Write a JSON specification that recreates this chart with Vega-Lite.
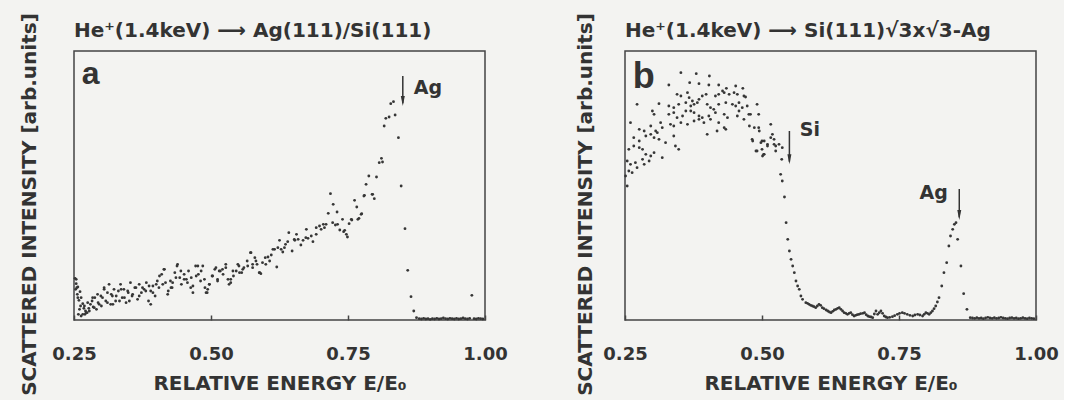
{
  "$schema": "https://vega.github.io/schema/vega-lite/v6.json",
  "background": "#f3f3f1",
  "padding": {"left": 18, "top": 11, "right": 5, "bottom": 3},
  "bounds": "flush",
  "spacing": 140,
  "config": {
    "view": {"stroke": "#444444", "strokeWidth": 1.5},
    "font": "DejaVu Sans",
    "title": {"anchor": "start", "frame": "group", "fontSize": 20, "fontWeight": "bold", "font": "DejaVu Sans", "color": "#333333", "baseline": "alphabetic", "offset": 12, "dy": 40},
    "axis": {"labelFont": "DejaVu Sans", "titleFont": "DejaVu Sans", "labelColor": "#333333", "titleColor": "#333333", "grid": false}
  },
  "datasets": {
    "a": [
      {"e":0.252,"i":125},{"e":0.254,"i":109},{"e":0.253,"i":92},{"e":0.257,"i":99},{"e":0.256,"i":77},{"e":0.261,"i":85},{"e":0.259,"i":59},{"e":0.263,"i":67},{"e":0.262,"i":42},{"e":0.266,"i":49},{"e":0.268,"i":35},{"e":0.271,"i":27},{"e":0.274,"i":22},{"e":0.270,"i":17},{"e":0.277,"i":35},{"e":0.280,"i":47},{"e":0.283,"i":57},{"e":0.285,"i":39},{"e":0.288,"i":67},{"e":0.291,"i":32},{"e":0.294,"i":52},{"e":0.299,"i":72},{"e":0.300,"i":42},{"e":0.305,"i":97},{"e":0.308,"i":57},{"e":0.311,"i":82},{"e":0.314,"i":107},{"e":0.317,"i":47},{"e":0.320,"i":72},{"e":0.323,"i":92},{"e":0.326,"i":57},{"e":0.331,"i":87},{"e":0.335,"i":107},{"e":0.338,"i":67},{"e":0.341,"i":92},{"e":0.345,"i":52},{"e":0.349,"i":82},{"e":0.353,"i":112},{"e":0.356,"i":72},{"e":0.361,"i":97},{"e":0.366,"i":62},{"e":0.369,"i":107},{"e":0.373,"i":82},{"e":0.378,"i":92},{"e":0.382,"i":112},{"e":0.386,"i":57},{"e":0.390,"i":87},{"e":0.394,"i":102},{"e":0.398,"i":72},{"e":0.402,"i":117},{"e":0.405,"i":97},{"e":0.410,"i":137},{"e":0.414,"i":152},{"e":0.417,"i":112},{"e":0.422,"i":87},{"e":0.426,"i":117},{"e":0.429,"i":97},{"e":0.434,"i":142},{"e":0.438,"i":162},{"e":0.443,"i":127},{"e":0.446,"i":107},{"e":0.451,"i":137},{"e":0.455,"i":122},{"e":0.459,"i":147},{"e":0.463,"i":97},{"e":0.467,"i":82},{"e":0.472,"i":162},{"e":0.477,"i":137},{"e":0.481,"i":117},{"e":0.485,"i":162},{"e":0.489,"i":97},{"e":0.493,"i":82},{"e":0.497,"i":107},{"e":0.502,"i":132},{"e":0.507,"i":152},{"e":0.512,"i":117},{"e":0.517,"i":147},{"e":0.522,"i":137},{"e":0.527,"i":157},{"e":0.531,"i":122},{"e":0.536,"i":112},{"e":0.541,"i":132},{"e":0.546,"i":147},{"e":0.551,"i":162},{"e":0.556,"i":142},{"e":0.560,"i":157},{"e":0.566,"i":177},{"e":0.572,"i":202},{"e":0.576,"i":157},{"e":0.580,"i":187},{"e":0.584,"i":167},{"e":0.589,"i":142},{"e":0.594,"i":172},{"e":0.599,"i":187},
      {"e":0.254,"i":122},{"e":0.255,"i":97},{"e":0.257,"i":67},{"e":0.258,"i":17},{"e":0.260,"i":32},{"e":0.263,"i":12},{"e":0.266,"i":17},{"e":0.269,"i":42},{"e":0.272,"i":22},{"e":0.275,"i":52},{"e":0.278,"i":27},{"e":0.284,"i":67},{"e":0.287,"i":37},{"e":0.293,"i":77},{"e":0.296,"i":47},{"e":0.302,"i":67},{"e":0.305,"i":92},{"e":0.311,"i":52},{"e":0.318,"i":77},{"e":0.321,"i":47},{"e":0.327,"i":72},{"e":0.333,"i":57},{"e":0.336,"i":92},{"e":0.342,"i":67},{"e":0.348,"i":87},{"e":0.351,"i":57},{"e":0.357,"i":77},{"e":0.363,"i":97},{"e":0.369,"i":72},{"e":0.375,"i":97},{"e":0.381,"i":87},{"e":0.387,"i":102},{"e":0.390,"i":47},{"e":0.394,"i":82},{"e":0.400,"i":107},{"e":0.406,"i":132},{"e":0.412,"i":107},{"e":0.415,"i":152},{"e":0.421,"i":77},{"e":0.427,"i":97},{"e":0.430,"i":112},{"e":0.436,"i":127},{"e":0.439,"i":167},{"e":0.445,"i":147},{"e":0.451,"i":122},{"e":0.457,"i":112},{"e":0.464,"i":127},{"e":0.467,"i":102},{"e":0.473,"i":132},{"e":0.476,"i":162},{"e":0.482,"i":147},{"e":0.488,"i":122},{"e":0.491,"i":82},{"e":0.494,"i":92},{"e":0.497,"i":107},{"e":0.503,"i":132},{"e":0.509,"i":157},{"e":0.512,"i":122},{"e":0.515,"i":147},{"e":0.521,"i":152},{"e":0.527,"i":167},{"e":0.533,"i":107},{"e":0.536,"i":122},{"e":0.540,"i":147},{"e":0.549,"i":167},{"e":0.552,"i":142},{"e":0.558,"i":152},{"e":0.567,"i":162},{"e":0.573,"i":202},{"e":0.576,"i":167},{"e":0.582,"i":177},{"e":0.588,"i":142},
      {"e":0.591,"i":139},{"e":0.600,"i":167},{"e":0.604,"i":189},{"e":0.610,"i":195},{"e":0.616,"i":212},{"e":0.620,"i":159},{"e":0.622,"i":217},{"e":0.625,"i":239},{"e":0.628,"i":212},{"e":0.631,"i":204},{"e":0.636,"i":227},{"e":0.640,"i":235},{"e":0.642,"i":262},{"e":0.648,"i":207},{"e":0.653,"i":239},{"e":0.656,"i":257},{"e":0.659,"i":242},{"e":0.664,"i":225},{"e":0.668,"i":239},{"e":0.674,"i":272},{"e":0.677,"i":245},{"e":0.683,"i":252},{"e":0.686,"i":235},{"e":0.692,"i":277},{"e":0.698,"i":282},{"e":0.701,"i":272},{"e":0.705,"i":287},{"e":0.710,"i":287},{"e":0.714,"i":320},{"e":0.718,"i":379},{"e":0.723,"i":347},{"e":0.727,"i":285},{"e":0.730,"i":324},{"e":0.735,"i":270},{"e":0.740,"i":302},{"e":0.742,"i":265},{"e":0.747,"i":257},{"e":0.749,"i":249},{"e":0.752,"i":289},{"e":0.757,"i":300},{"e":0.762,"i":359},{"e":0.766,"i":339},{"e":0.770,"i":305},{"e":0.775,"i":319},{"e":0.780,"i":374},{"e":0.783,"i":407},{"e":0.788,"i":432},{"e":0.794,"i":377},{"e":0.798,"i":364},{"e":0.802,"i":429},{"e":0.807,"i":472},{"e":0.811,"i":485},
      {"e":0.607,"i":177},{"e":0.613,"i":212},{"e":0.634,"i":217},{"e":0.652,"i":242},{"e":0.673,"i":247},{"e":0.692,"i":257},{"e":0.707,"i":277},{"e":0.722,"i":292},{"e":0.731,"i":287},{"e":0.744,"i":269},{"e":0.756,"i":302},{"e":0.768,"i":302},{"e":0.774,"i":317},{"e":0.779,"i":372},{"e":0.795,"i":377},
      {"e":0.813,"i":474},{"e":0.816,"i":582},{"e":0.819,"i":605},{"e":0.825,"i":609},{"e":0.828,"i":649},{"e":0.833,"i":655},{"e":0.836,"i":615},
      {"e":0.842,"i":547},{"e":0.847,"i":402},{"e":0.854,"i":274},{"e":0.859,"i":149},{"e":0.865,"i":70},{"e":0.870,"i":27},{"e":0.875,"i":7},
      {"e":0.880,"i":4},{"e":0.884,"i":3},{"e":0.888,"i":5},{"e":0.892,"i":3},{"e":0.896,"i":4},{"e":0.900,"i":2},{"e":0.904,"i":4},{"e":0.908,"i":3},{"e":0.912,"i":5},{"e":0.916,"i":3},{"e":0.920,"i":4},{"e":0.924,"i":6},{"e":0.928,"i":4},{"e":0.932,"i":3},{"e":0.936,"i":5},{"e":0.940,"i":4},{"e":0.944,"i":3},{"e":0.948,"i":5},{"e":0.952,"i":3},{"e":0.956,"i":4},{"e":0.960,"i":6},{"e":0.964,"i":4},{"e":0.968,"i":3},{"e":0.972,"i":5},{"e":0.980,"i":4},{"e":0.984,"i":3},{"e":0.988,"i":5},{"e":0.992,"i":4},{"e":0.996,"i":3},
      {"e":0.976,"i":74}
    ],
    "b": [
      {"e":0.352,"i":742},{"e":0.380,"i":739},{"e":0.404,"i":732},{"e":0.330,"i":705},{"e":0.368,"i":712},{"e":0.385,"i":709},{"e":0.403,"i":705},{"e":0.421,"i":705},{"e":0.435,"i":695},{"e":0.452,"i":702},{"e":0.465,"i":695},{"e":0.345,"i":677},{"e":0.352,"i":672},{"e":0.364,"i":682},{"e":0.367,"i":667},{"e":0.373,"i":657},{"e":0.385,"i":662},{"e":0.382,"i":652},{"e":0.391,"i":672},{"e":0.398,"i":677},{"e":0.415,"i":672},{"e":0.421,"i":677},{"e":0.428,"i":687},{"e":0.431,"i":682},{"e":0.440,"i":677},{"e":0.449,"i":682},{"e":0.455,"i":677},{"e":0.467,"i":672},{"e":0.470,"i":669},{"e":0.458,"i":652},{"e":0.272,"i":647},{"e":0.312,"i":649},{"e":0.330,"i":642},{"e":0.339,"i":637},{"e":0.348,"i":647},{"e":0.361,"i":652},{"e":0.370,"i":642},{"e":0.376,"i":647},{"e":0.400,"i":647},{"e":0.406,"i":637},{"e":0.412,"i":632},{"e":0.421,"i":647},{"e":0.434,"i":652},{"e":0.446,"i":647},{"e":0.452,"i":642},{"e":0.458,"i":627},{"e":0.464,"i":637},{"e":0.473,"i":642},{"e":0.479,"i":617},{"e":0.491,"i":647},{"e":0.300,"i":627},{"e":0.303,"i":617},{"e":0.330,"i":617},{"e":0.339,"i":622},{"e":0.345,"i":607},{"e":0.355,"i":612},{"e":0.361,"i":627},{"e":0.370,"i":627},{"e":0.376,"i":622},{"e":0.385,"i":612},{"e":0.391,"i":607},{"e":0.403,"i":612},{"e":0.415,"i":622},{"e":0.431,"i":617},{"e":0.437,"i":607},{"e":0.455,"i":612},{"e":0.467,"i":602},{"e":0.476,"i":617},{"e":0.494,"i":617},{"e":0.260,"i":592},{"e":0.276,"i":572},{"e":0.285,"i":567},{"e":0.297,"i":582},{"e":0.306,"i":567},{"e":0.315,"i":592},{"e":0.318,"i":577},{"e":0.333,"i":587},{"e":0.339,"i":582},{"e":0.352,"i":592},{"e":0.364,"i":587},{"e":0.376,"i":597},{"e":0.385,"i":602},{"e":0.394,"i":592},{"e":0.406,"i":602},{"e":0.421,"i":592},{"e":0.431,"i":577},{"e":0.494,"i":577},{"e":0.516,"i":587},{"e":0.266,"i":547},{"e":0.276,"i":537},{"e":0.288,"i":552},{"e":0.297,"i":557},{"e":0.303,"i":547},{"e":0.309,"i":562},{"e":0.312,"i":542},{"e":0.324,"i":532},{"e":0.339,"i":552},{"e":0.348,"i":512},{"e":0.342,"i":522},{"e":0.400,"i":557},{"e":0.418,"i":567},{"e":0.434,"i":572},{"e":0.482,"i":542},{"e":0.500,"i":537},{"e":0.510,"i":527},{"e":0.519,"i":557},{"e":0.522,"i":542},{"e":0.525,"i":522},{"e":0.257,"i":512},{"e":0.266,"i":522},{"e":0.276,"i":517},{"e":0.282,"i":512},{"e":0.288,"i":497},{"e":0.297,"i":492},{"e":0.303,"i":502},{"e":0.318,"i":487},{"e":0.491,"i":507},{"e":0.500,"i":512},{"e":0.503,"i":497},{"e":0.525,"i":507},{"e":0.531,"i":527},{"e":0.537,"i":517},{"e":0.254,"i":477},{"e":0.260,"i":467},{"e":0.269,"i":472},{"e":0.272,"i":457},{"e":0.282,"i":482},{"e":0.285,"i":467},{"e":0.294,"i":477},{"e":0.257,"i":447},{"e":0.263,"i":442},{"e":0.251,"i":432},{"e":0.254,"i":402},
      {"e":0.477,"i":582},{"e":0.486,"i":577},{"e":0.495,"i":567},{"e":0.498,"i":532},{"e":0.504,"i":537},{"e":0.510,"i":522},{"e":0.516,"i":547},{"e":0.522,"i":527},{"e":0.483,"i":537},{"e":0.489,"i":507},{"e":0.504,"i":497},{"e":0.501,"i":492},
      {"e":0.536,"i":482},{"e":0.534,"i":437},{"e":0.537,"i":417},{"e":0.541,"i":369},{"e":0.544,"i":292},{"e":0.547,"i":242},{"e":0.550,"i":207},{"e":0.553,"i":182},{"e":0.556,"i":162},{"e":0.559,"i":142},{"e":0.562,"i":117},{"e":0.565,"i":102},{"e":0.568,"i":92},{"e":0.571,"i":72},{"e":0.574,"i":62},{"e":0.580,"i":52},{"e":0.586,"i":47},{"e":0.592,"i":42},{"e":0.598,"i":37},{"e":0.604,"i":47},{"e":0.610,"i":37},{"e":0.620,"i":27},{"e":0.626,"i":22},{"e":0.635,"i":32},{"e":0.641,"i":37},{"e":0.647,"i":27},{"e":0.656,"i":17},{"e":0.662,"i":22},{"e":0.668,"i":12},{"e":0.677,"i":17},{"e":0.687,"i":22},{"e":0.693,"i":12},{"e":0.702,"i":7},{"e":0.708,"i":27},{"e":0.711,"i":17},{"e":0.717,"i":27},{"e":0.723,"i":12},{"e":0.729,"i":7},{"e":0.738,"i":10},{"e":0.747,"i":17},{"e":0.756,"i":22},{"e":0.765,"i":17},{"e":0.775,"i":12},{"e":0.784,"i":17},{"e":0.793,"i":12},{"e":0.799,"i":22},{"e":0.805,"i":17},{"e":0.811,"i":27},{"e":0.817,"i":42},{"e":0.823,"i":67},{"e":0.828,"i":102},{"e":0.832,"i":142},{"e":0.837,"i":172},{"e":0.841,"i":222},{"e":0.844,"i":252},{"e":0.848,"i":272},{"e":0.851,"i":287},{"e":0.854,"i":292},{"e":0.857,"i":242},{"e":0.863,"i":162},{"e":0.868,"i":79},{"e":0.874,"i":32},{"e":0.880,"i":7},
      {"e":0.583,"i":50},{"e":0.589,"i":44},{"e":0.595,"i":40},{"e":0.601,"i":42},{"e":0.607,"i":44},{"e":0.613,"i":34},{"e":0.617,"i":30},{"e":0.623,"i":24},{"e":0.629,"i":26},{"e":0.632,"i":30},{"e":0.638,"i":35},{"e":0.644,"i":32},{"e":0.650,"i":22},{"e":0.653,"i":20},{"e":0.659,"i":20},{"e":0.665,"i":16},{"e":0.671,"i":14},{"e":0.674,"i":16},{"e":0.680,"i":19},{"e":0.684,"i":20},{"e":0.690,"i":16},{"e":0.696,"i":10},{"e":0.699,"i":9},{"e":0.705,"i":18},{"e":0.714,"i":22},{"e":0.720,"i":20},{"e":0.726,"i":9},{"e":0.733,"i":8},{"e":0.742,"i":13},{"e":0.751,"i":20},{"e":0.760,"i":20},{"e":0.770,"i":14},{"e":0.779,"i":15},{"e":0.788,"i":15},{"e":0.796,"i":17},{"e":0.802,"i":20},{"e":0.808,"i":22},{"e":0.814,"i":34},{"e":0.820,"i":54},
      {"e":0.884,"i":6},{"e":0.888,"i":5},{"e":0.892,"i":7},{"e":0.896,"i":5},{"e":0.900,"i":6},{"e":0.904,"i":4},{"e":0.908,"i":6},{"e":0.912,"i":8},{"e":0.916,"i":6},{"e":0.920,"i":5},{"e":0.924,"i":7},{"e":0.928,"i":5},{"e":0.932,"i":6},{"e":0.936,"i":8},{"e":0.940,"i":6},{"e":0.944,"i":5},{"e":0.948,"i":4},{"e":0.952,"i":6},{"e":0.956,"i":7},{"e":0.960,"i":5},{"e":0.964,"i":6},{"e":0.968,"i":4},{"e":0.972,"i":5},{"e":0.976,"i":7},{"e":0.980,"i":5},{"e":0.984,"i":4},{"e":0.988,"i":6},{"e":0.992,"i":5},{"e":0.996,"i":4}
    ]
  },
  "hconcat": [
    {
      "width": 411,
      "height": 269,
      "title": {"text": "He⁺(1.4keV) ⟶ Ag(111)/Si(111)"},
      "layer": [
        {
          "data": {"name": "a"},
          "mark": {"type": "circle", "size": 8, "color": "#363636", "opacity": 1},
          "encoding": {
            "x": {"field": "e", "type": "quantitative", "scale": {"domain": [0.25, 1.0], "nice": false, "zero": false},
              "axis": {"values": [0.25, 0.5, 0.75, 1.0], "format": ".2f", "title": "RELATIVE ENERGY E/E₀", "tickSize": -5, "tickColor": "#444444", "tickWidth": 1.5, "domain": false, "labelFlush": false, "labelFontSize": 18, "labelFontWeight": "bold", "labelPadding": 30, "titleFontSize": 20, "titleFontWeight": "bold", "titlePadding": 10}},
            "y": {"field": "i", "type": "quantitative", "scale": {"domain": [0, 807], "nice": false},
              "axis": {"labels": false, "ticks": false, "domain": false, "title": "SCATTERED INTENSITY [arb.units]", "titleFontSize": 20, "titleFontWeight": "bold", "titlePadding": 35, "titleY": 153}}
          }
        },
        {
          "data": {"values": [{"e": 0.850, "top": 732, "bot": 650}]},
          "mark": {"type": "rule", "color": "#333333", "strokeWidth": 1.5},
          "encoding": {"x": {"field": "e", "type": "quantitative"}, "y": {"field": "top", "type": "quantitative"}, "y2": {"field": "bot"}}
        },
        {
          "data": {"values": [{"e": 0.850, "i": 657}]},
          "mark": {"type": "point", "shape": "M-0.4,-1L0.4,-1L0,1Z", "filled": true, "size": 100, "color": "#333333", "opacity": 1},
          "encoding": {"x": {"field": "e", "type": "quantitative"}, "y": {"field": "i", "type": "quantitative"}}
        },
        {
          "data": {"values": [{"e": 0.870, "i": 678, "t": "Ag"}]},
          "mark": {"type": "text", "align": "left", "baseline": "alphabetic", "font": "DejaVu Sans", "fontWeight": "bold", "color": "#333333", "fontSize": 19},
          "encoding": {"x": {"field": "e", "type": "quantitative"}, "y": {"field": "i", "type": "quantitative"}, "text": {"field": "t"}}
        },
        {
          "data": {"values": [{"e": 0.264, "i": 708, "t": "a"}]},
          "mark": {"type": "text", "align": "left", "baseline": "alphabetic", "font": "Liberation Sans", "fontWeight": "bold", "color": "#333333", "fontSize": 32},
          "encoding": {"x": {"field": "e", "type": "quantitative"}, "y": {"field": "i", "type": "quantitative"}, "text": {"field": "t"}}
        }
      ]
    },
    {
      "width": 411,
      "height": 269,
      "title": {"text": "He⁺(1.4keV) ⟶ Si(111)√3x√3-Ag"},
      "layer": [
        {
          "data": {"name": "b"},
          "mark": {"type": "circle", "size": 8, "color": "#363636", "opacity": 1},
          "encoding": {
            "x": {"field": "e", "type": "quantitative", "scale": {"domain": [0.25, 1.0], "nice": false, "zero": false},
              "axis": {"values": [0.25, 0.5, 0.75, 1.0], "format": ".2f", "title": "RELATIVE ENERGY E/E₀", "tickSize": -5, "tickColor": "#444444", "tickWidth": 1.5, "domain": false, "labelFlush": false, "labelFontSize": 18, "labelFontWeight": "bold", "labelPadding": 30, "titleFontSize": 20, "titleFontWeight": "bold", "titlePadding": 10}},
            "y": {"field": "i", "type": "quantitative", "scale": {"domain": [0, 807], "nice": false},
              "axis": {"labels": false, "ticks": false, "domain": false, "title": "SCATTERED INTENSITY [arb.units]", "titleFontSize": 20, "titleFontWeight": "bold", "titlePadding": 30, "titleY": 153}}
          }
        },
        {
          "data": {"values": [{"e": 0.550, "top": 567, "bot": 475}, {"e": 0.860, "top": 393, "bot": 308}]},
          "mark": {"type": "rule", "color": "#333333", "strokeWidth": 1.5},
          "encoding": {"x": {"field": "e", "type": "quantitative"}, "y": {"field": "top", "type": "quantitative"}, "y2": {"field": "bot"}}
        },
        {
          "data": {"values": [{"e": 0.550, "i": 482}, {"e": 0.860, "i": 315}]},
          "mark": {"type": "point", "shape": "M-0.4,-1L0.4,-1L0,1Z", "filled": true, "size": 100, "color": "#333333", "opacity": 1},
          "encoding": {"x": {"field": "e", "type": "quantitative"}, "y": {"field": "i", "type": "quantitative"}}
        },
        {
          "data": {"values": [{"e": 0.569, "i": 552, "t": "Si"}]},
          "mark": {"type": "text", "align": "left", "baseline": "alphabetic", "font": "DejaVu Sans", "fontWeight": "bold", "color": "#333333", "fontSize": 19},
          "encoding": {"x": {"field": "e", "type": "quantitative"}, "y": {"field": "i", "type": "quantitative"}, "text": {"field": "t"}}
        },
        {
          "data": {"values": [{"e": 0.264, "i": 696, "t": "b"}]},
          "mark": {"type": "text", "align": "left", "baseline": "alphabetic", "font": "Liberation Sans", "fontWeight": "bold", "color": "#333333", "fontSize": 36},
          "encoding": {"x": {"field": "e", "type": "quantitative"}, "y": {"field": "i", "type": "quantitative"}, "text": {"field": "t"}}
        },
        {
          "data": {"values": [{"e": 0.839, "i": 363, "t": "Ag"}]},
          "mark": {"type": "text", "align": "right", "baseline": "alphabetic", "font": "DejaVu Sans", "fontWeight": "bold", "color": "#333333", "fontSize": 19},
          "encoding": {"x": {"field": "e", "type": "quantitative"}, "y": {"field": "i", "type": "quantitative"}, "text": {"field": "t"}}
        }
      ]
    }
  ]
}
